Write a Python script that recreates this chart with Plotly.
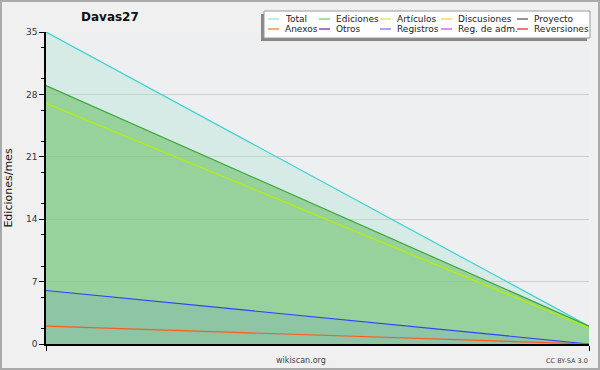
import plotly.graph_objects as go

# ---- data ----
x_points = [0, 1]
total = [35, 2]
ediciones = [29, 2]
articulos = [27, 1.8]
registros = [6, 0]
anexos = [2, 0]

legend_names = ["Total", "Ediciones", "Artículos", "Discusiones", "Proyecto",
                "Anexos", "Otros", "Registros", "Reg. de adm.", "Reversiones"]
legend_colors = ["#a8e8e8", "#88d088", "#d0f070", "#ffd070", "#707070",
                 "#ff8848", "#8848c8", "#8888ff", "#d868e8", "#e84848"]

y_ticks = [0, 7, 14, 21, 28, 35]
minor_ticks = [1.75, 5.25, 8.75, 12.25, 15.75, 19.25, 22.75, 26.25, 29.75, 33.25]

FONT = "DejaVu Sans"

# pixel -> paper helpers (plot area: x 46..589, y 32..344)
L, R, T, B = 46, 589, 32, 344
def px(p):
    return (p - L) / (R - L)
def py(p):
    return (B - p) / (B - T)

fig = go.Figure()

fig.add_trace(go.Scatter(x=x_points, y=total, mode="lines", fill="tozeroy",
                         line=dict(color="#3cd2d2", width=1.2),
                         fillcolor="rgba(170,230,210,0.35)", name="Total"))
fig.add_trace(go.Scatter(x=x_points, y=ediciones, mode="lines", fill="tozeroy",
                         line=dict(color="#3aa83a", width=1.2),
                         fillcolor="rgba(130,200,130,0.75)", name="Ediciones"))
fig.add_trace(go.Scatter(x=x_points, y=articulos, mode="lines",
                         line=dict(color="#b4f000", width=1.2), name="Artículos"))
fig.add_trace(go.Scatter(x=x_points, y=registros, mode="lines", fill="tozeroy",
                         line=dict(color="#3040ff", width=1.2),
                         fillcolor="rgba(120,170,190,0.3)", name="Registros"))
fig.add_trace(go.Scatter(x=x_points, y=anexos, mode="lines",
                         line=dict(color="#ff5a1e", width=1.2), name="Anexos"))

fig.update_layout(
    width=600, height=370,
    margin=dict(l=L, r=600 - R, t=T, b=370 - B),
    paper_bgcolor="#f0f0f0",
    plot_bgcolor="#eeeff1",
    font=dict(family=FONT, size=10, color="#222"),
    showlegend=False,
    xaxis=dict(range=[0, 1], showgrid=False, zeroline=False, automargin=False,
               showline=True, linecolor="#000", linewidth=1.5,
               tickmode="array", tickvals=[0, 1], ticktext=["", ""],
               ticks="outside", ticklen=5, tickcolor="#000"),
    yaxis=dict(range=[0, 35], showgrid=True, gridcolor="#cccccc", gridwidth=1,
               zeroline=False, automargin=False,
               showline=True, linecolor="#000", linewidth=1.5,
               tickmode="array", tickvals=y_ticks,
               ticks="outside", ticklen=5, tickcolor="#000",
               tickfont=dict(family=FONT, size=9, color="#333"),
               minor=dict(tickmode="array", tickvals=minor_ticks, ticks="outside",
                          ticklen=3, tickcolor="#000", showgrid=False),
               title=dict(text="Ediciones/mes", standoff=11,
                          font=dict(family=FONT, size=11, color="#111"))),
)

fig.add_annotation(text="<b>Davas27</b>", xref="paper", yref="paper",
                   x=px(110), y=py(17), showarrow=False,
                   xanchor="center", yanchor="middle",
                   font=dict(family=FONT, size=12, color="#111"))
fig.add_annotation(text="wikiscan.org", xref="paper", yref="paper",
                   x=px(301), y=py(360), showarrow=False,
                   xanchor="center", yanchor="middle",
                   font=dict(family=FONT, size=8, color="#444"))
fig.add_annotation(text="CC BY-SA 3.0", xref="paper", yref="paper",
                   x=px(590), y=py(361), showarrow=False,
                   xanchor="right", yanchor="middle",
                   font=dict(family=FONT, size=6.5, color="#444"))

# manual legend: shadow, box, entries
fig.add_shape(type="rect", xref="paper", yref="paper",
              x0=px(261), x1=px(587), y0=py(41), y1=py(14),
              fillcolor="#888888", line=dict(width=0), layer="above")
fig.add_shape(type="rect", xref="paper", yref="paper",
              x0=px(264), x1=px(590), y0=py(38), y1=py(11),
              fillcolor="#ffffff", line=dict(color="#999999", width=1), layer="above")

col_x = [268, 319, 380, 441, 517]
row_y = [19, 29]
for i, (name, col) in enumerate(zip(legend_names, legend_colors)):
    cx = col_x[i % 5]
    ry = row_y[i // 5]
    fig.add_shape(type="line", xref="paper", yref="paper",
                  x0=px(cx), x1=px(cx + 11), y0=py(ry), y1=py(ry),
                  line=dict(color=col, width=1.5), layer="above")
    fig.add_annotation(text=name, xref="paper", yref="paper",
                       x=px(cx + 15), y=py(ry), showarrow=False,
                       xanchor="left", yanchor="middle",
                       font=dict(family=FONT, size=9, color="#222"))

# figure border
fig.add_shape(type="rect", xref="paper", yref="paper",
              x0=px(1), x1=px(599), y0=py(369), y1=py(1),
              fillcolor="rgba(0,0,0,0)", line=dict(color="#aaaaaa", width=2))

fig.write_html("out.html", config={"displayModeBar": False},
               post_script="document.body.style.margin='0';")
